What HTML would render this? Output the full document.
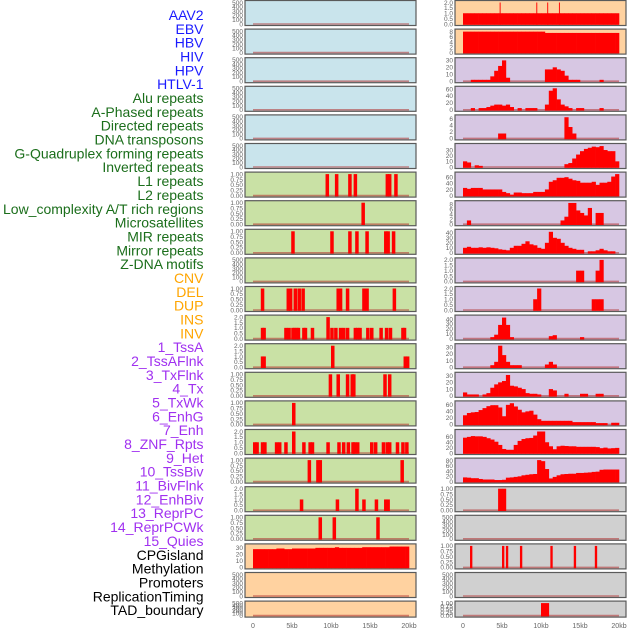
<!DOCTYPE html>
<html><head><meta charset="utf-8"><style>
html,body{margin:0;padding:0;background:#fff;}
svg{display:block;font-family:"Liberation Sans",sans-serif;}
</style></head><body>
<svg id="chart" width="630" height="630" viewBox="0 0 630 630" xmlns="http://www.w3.org/2000/svg"></svg>
<script>
// ---------- data ----------
const labels = ["AAV2","EBV","HBV","HIV","HPV","HTLV-1","Alu repeats","A-Phased repeats","Directed repeats","DNA transposons","G-Quadruplex forming repeats","Inverted repeats","L1 repeats","L2 repeats","Low_complexity A/T rich regions","Microsatellites","MIR repeats","Mirror repeats","Z-DNA motifs","CNV","DEL","DUP","INS","INV","1_TssA","2_TssAFlnk","3_TxFlnk","4_Tx","5_TxWk","6_EnhG","7_Enh","8_ZNF_Rpts","9_Het","10_TssBiv","11_BivFlnk","12_EnhBiv","13_ReprPC","14_ReprPCWk","15_Quies","CPGisland","Methylation","Promoters","ReplicationTiming","TAD_boundary"];
const labelGroups = [6,13,5,15,5];
const groupColors = ["#1a1aff","#1b6e1b","#ffa500","#a030f0","#000000"];
const xTickKb = [0,5,10,15,20];
const xTickLabels = ["0","5kb","10kb","15kb","20kb"];

// left column sparse bars (start kb, value)
const L6_pos=[9.3,10.5,12.2,12.9,17.0,17.3,18.1]; const L6_val=[1,1,1,1,1,1,1];
const L7_pos=[13.9]; const L7_val=[1];
const L8_pos=[4.9,9.9,12.2,13.1,14.4,16.8,17.1,17.8]; const L8_val=[1,1,1,1,1,1,1,1];
const L10_pos=[1.0,4.3,4.6,5.2,5.7,6.2,10.7,11.0,11.9,14.0,14.4,17.9]; const L10_val=[1,1,1,1,1,1,1,1,1,1,1,1];
const L11_pos=[1.0,1.2,4.0,4.4,4.9,5.1,5.4,5.6,6.3,6.5,7.4,9.4,9.9,10.4,11.0,11.4,11.9,12.9,13.2,13.5,14.5,15.0,16.2,16.9,17.4,19.0,19.2];
const L11_val=[1,1,1,1,1,1,1,1,1,1,1,2,1,1,1,1,1,1,1,1,1,1,1,1,1,1,1];
const L12_pos=[1.0,1.2,10.0,19.3,19.6]; const L12_val=[1,1,2,1,1];
const L13_pos=[9.7,10.7,11.9,12.5,12.7,16.7,17.3]; const L13_val=[1,1,1,1,1,1,1];
const L14_pos=[5.0]; const L14_val=[1];
const L15_pos=[0.0,0.3,1.0,1.3,2.8,3.2,4.0,5.0,6.3,7.1,7.4,9.4,10.8,11.4,12.0,12.6,12.8,13.2,15.0,15.5,16.5,17.0,17.3,18.3,19.0,19.5];
const L15_val=[1,1,1,1,1,1,1,2,1,1,1,1,1,1,1,1,1,1,1,1,1,1,1,1,1,1];
const L16_pos=[7.0,8.1,8.4,18.9]; const L16_val=[1,1,1,1];
const L17_pos=[6.0,10.6,13.1,14.0,15.6,16.8,17.1]; const L17_val=[1,1,2,1,1,1,1];
const L18_pos=[8.4,10.2,15.8]; const L18_val=[1,1,1];
const L19_vals=[28,28,28,28,28,28,29,29,28,28,29,29,29,29,29,29,30,30,30,30,30,31,30,30,30,30,30,30,31,31,31,31,31,31,31,32,32,32,32,32];

// right column histograms (40 bins of 0.5kb)
const R0_vals=[1,1,1,1,1,1,1,1,1,1,1,1,1,1,1,1,1,1,1,1,1,1,1,1,1,1,1,1,1,1,1,1,1,1,1,1,1,1,1,1];
const R0_spikePos=[4.7,9.4,10.8,12.3]; const R0_spikeVal=[2,2,2,2];
const R1_vals=[8,8,8,8,8,8,8,8,8,8,8,8,8,8,8,8,8,8,8,8,8,7.5,7.5,7.5,7.5,7.5,7.5,7.5,7.5,7.5,7.5,7.5,7.5,7.5,7.5,7.5,7.5,7.5,7.5,7.5];
const R2_vals=[0,0,2,2,2,2,2,7,15,22,30,5,0,0,0,0,0,0,0,0,0,17,17,20,17,15,8,2,2,2,0,0,0,0,0,2,0,0,0,0];
const R3_vals=[0,0,5,0,5,5,8,12,15,15,12,15,8,0,5,0,5,5,5,0,0,15,55,62,30,15,10,5,0,5,5,0,0,0,0,5,0,0,0,0];
const R4_vals=[0,0,0,0,0,0,0,0,0,1.5,1.5,0,0,0,0,0,0,0,0,0,0,0,0,0,0,0,6.5,3.5,1.5,0,0,0,0,0,0,0,0,0,0,0];
const R5_vals=[10,8,0,3,2,0,0,0,0,0,0,0,0,0,0,0,0,0,0,0,0,0,0,0,0,0,5,7,15,22,28,32,34,36,35,37,30,28,28,10];
const R6_vals=[25,22,25,25,25,20,20,20,20,20,12,8,3,10,10,8,8,8,12,12,12,20,45,50,58,58,60,55,50,48,42,42,42,45,35,42,42,45,62,70];
const R7_vals=[0,1.5,0,0,0,0,0,0,0,0,0,0,0,0,0,0,0,0,0,0,0,0,0,0,0,1.5,3,8.5,8.5,5.5,4.5,3.5,6.5,0,4.5,4.5,0,0,0,0];
const R8_vals=[10,12,10,10,11,10,11,10,9,7,6,5,10,14,14,18,23,17,15,10,8,20,42,30,28,20,14,10,8,6,6,0,3,3,5,8,5,3,3,0];
const R9_vals=[0,0,0,0,0,0,0,0,0,0,0,0,0,0,0,0,0,0,0,0,0,0,0,0,0,0,0,0,0,1,1,0,0,0,1,2,0,0,0,0];
const R10_vals=[0,0,0,0,0,0,0,0,0,0,0,0,0,0,0,0,0,0,1,2,0,0,0,0,0,0,0,0,0,0,0,0,0,1,1,1,0,0,0,0];
const R11_vals=[0,0,0,0,0,0,0,3,8,28,43,28,3,0,0,0,0,0,0,0,0,0,5,7,0,0,0,0,0,0,3,0,0,0,0,0,0,0,0,0];
const R12_vals=[0,0,0,0,0,0,0,3,8,32,18,8,3,3,3,0,0,0,0,0,0,4,8,4,0,0,0,0,0,0,0,0,0,0,0,0,0,0,0,0];
const R13_vals=[5,2,2,2,0,2,4,12,17,20,22,31,15,14,12,10,4,3,3,2,0,0,10,8,0,0,3,0,0,0,3,3,0,0,3,3,0,0,0,0];
const R14_vals=[28,35,37,38,44,50,56,59,59,52,25,60,65,55,45,37,40,42,30,16,11,11,11,11,11,11,11,11,7,7,7,7,7,7,4,4,4,0,5,5];
const R15_vals=[57,60,63,62,62,60,55,50,42,30,15,12,12,30,45,52,55,56,65,80,80,40,25,14,25,27,26,25,25,23,23,23,23,23,22,18,20,17,18,19];
const R16_vals=[16,15,13,13,10,8,8,8,6,6,7,15,16,18,20,24,26,28,29,82,78,48,12,18,24,28,29,30,30,33,33,34,35,37,38,45,46,46,46,46];
const R17_vals=[0,0,0,0,0,0,0,0,0,1,1,0,0,0,0,0,0,0,0,0,0,0,0,0,0,0,0,0,0,0,0,0,0,0,0,0,0,0,0,0];
const R19_pos=[0.9,5.0,5.5,7.3,11.2,14.2,16.9]; const R19_val=[1,1,1,1,1,1,1];
const R21_vals=[0,0,0,0,0,0,0,0,0,0,0,0,0,0,0,0,0,0,0,0,1,1,0,0,0,0,0,0,0,0,0,0,0,0,0,0,0,0,0,0];

// tick sets
const T500=[0,100,200,300,400,500], T1=[0,0.25,0.5,0.75,1], T2=[0,0.5,1,1.5,2];
const f2=v=>v.toFixed(2), f1=v=>v.toFixed(1), f0=v=>String(v);
const BLUE="#c9e4ec",GREEN="#c9e1a5",PEACH="#ffd2a0",LAV="#d7c7e3",GREY="#d0d0d0";

const leftPanels=[
 {bg:BLUE,ticks:T500,fmt:f0,max:500},{bg:BLUE,ticks:T500,fmt:f0,max:500},{bg:BLUE,ticks:T500,fmt:f0,max:500},
 {bg:BLUE,ticks:T500,fmt:f0,max:500},{bg:BLUE,ticks:T500,fmt:f0,max:500},{bg:BLUE,ticks:T500,fmt:f0,max:500},
 {bg:GREEN,ticks:T1,fmt:f2,max:1,pos:L6_pos,val:L6_val},
 {bg:GREEN,ticks:T1,fmt:f2,max:1,pos:L7_pos,val:L7_val},
 {bg:GREEN,ticks:T1,fmt:f2,max:1,pos:L8_pos,val:L8_val},
 {bg:GREEN,ticks:T500,fmt:f0,max:500},
 {bg:GREEN,ticks:T1,fmt:f2,max:1,pos:L10_pos,val:L10_val},
 {bg:GREEN,ticks:T2,fmt:f1,max:2,pos:L11_pos,val:L11_val},
 {bg:GREEN,ticks:T2,fmt:f1,max:2,pos:L12_pos,val:L12_val},
 {bg:GREEN,ticks:T1,fmt:f2,max:1,pos:L13_pos,val:L13_val},
 {bg:GREEN,ticks:T1,fmt:f2,max:1,pos:L14_pos,val:L14_val},
 {bg:GREEN,ticks:T2,fmt:f1,max:2,pos:L15_pos,val:L15_val},
 {bg:GREEN,ticks:T1,fmt:f2,max:1,pos:L16_pos,val:L16_val},
 {bg:GREEN,ticks:T2,fmt:f1,max:2,pos:L17_pos,val:L17_val},
 {bg:GREEN,ticks:T1,fmt:f2,max:1,pos:L18_pos,val:L18_val},
 {bg:PEACH,ticks:[0,10,20,30],fmt:f0,max:33,hist:L19_vals},
 {bg:PEACH,ticks:T500,fmt:f0,max:500},
 {bg:PEACH,ticks:T500,fmt:f0,max:500}
];
const rightPanels=[
 {bg:PEACH,ticks:T2,fmt:f1,max:2,hist:R0_vals,pos:R0_spikePos,val:R0_spikeVal,w:0.12},
 {bg:PEACH,ticks:[0,2,4,6,8],fmt:f0,max:8.2,hist:R1_vals},
 {bg:LAV,ticks:[0,10,20,30],fmt:f0,max:31,hist:R2_vals},
 {bg:LAV,ticks:[0,20,40,60],fmt:f0,max:62,hist:R3_vals},
 {bg:LAV,ticks:[0,2,4,6],fmt:f0,max:6.6,hist:R4_vals},
 {bg:LAV,ticks:[0,10,20,30],fmt:f0,max:38,hist:R5_vals},
 {bg:LAV,ticks:[0,20,40,60],fmt:f0,max:70,hist:R6_vals},
 {bg:LAV,ticks:[0,2,4,6,8],fmt:f0,max:8.6,hist:R7_vals},
 {bg:LAV,ticks:[0,10,20,30,40],fmt:f0,max:43,hist:R8_vals},
 {bg:LAV,ticks:T2,fmt:f1,max:2,hist:R9_vals},
 {bg:LAV,ticks:T2,fmt:f1,max:2,hist:R10_vals},
 {bg:LAV,ticks:[0,10,20,30,40],fmt:f0,max:44,hist:R11_vals},
 {bg:LAV,ticks:[0,10,20,30],fmt:f0,max:32,hist:R12_vals},
 {bg:LAV,ticks:[0,10,20,30],fmt:f0,max:32,hist:R13_vals},
 {bg:LAV,ticks:[0,20,40,60],fmt:f0,max:66,hist:R14_vals},
 {bg:LAV,ticks:[0,20,40,60],fmt:f0,max:80,hist:R15_vals},
 {bg:LAV,ticks:[0,20,40,60,80],fmt:f0,max:82,hist:R16_vals},
 {bg:GREY,ticks:T1,fmt:f2,max:1,hist:R17_vals},
 {bg:GREY,ticks:T500,fmt:f0,max:500},
 {bg:GREY,ticks:T1,fmt:f2,max:1,pos:R19_pos,val:R19_val,w:0.3},
 {bg:GREY,ticks:T500,fmt:f0,max:500},
 {bg:GREY,ticks:T1,fmt:f2,max:1,hist:R21_vals}
];

// ---------- drawing ----------
const NS="http://www.w3.org/2000/svg";
const svg=document.getElementById('chart');
function el(tag,attrs,parent){const e=document.createElementNS(NS,tag);for(const k in attrs)e.setAttribute(k,attrs[k]);(parent||svg).appendChild(e);return e;}

// labels
let li=0;
labelGroups.forEach((n,g)=>{for(let j=0;j<n;j++){
  const t=el('text',{x:203.5,y:20+li*13.84,'text-anchor':'end','font-size':'14',fill:groupColors[g]});
  
  
  t.textContent=labels[li]; li++;}});

function drawPanel(p,i,side){
  const pl = side==='left'?245:455, pw=171;
  const x0 = side==='left'?253:463;
  const xs = kb=>x0+kb*156/20;
  const top = i*28.6+0.5, h = (i===21?16:25);
  const y0 = top+h-1.5, y1 = top+2;
  const ys = v=>y0-(v/p.max)*(y0-y1);
  const g=el('g',{});
  
  
  const r=el('rect',{x:pl,y:top,width:pw,height:h,fill:p.bg,stroke:'#5a5a5a','stroke-width':1.2},g);
  
  
  // baseline
  const bl=el('line',{x1:xs(0),x2:xs(20),y1:y0,y2:y0,stroke:'#b03030','stroke-opacity':0.55,'stroke-width':1.6},g);
  
  
  if(p.hist){p.hist.forEach((v,b)=>{if(v<=0)return;
    const rb=el('rect',{x:xs(b*0.5),y:ys(v),width:xs(0.5)-xs(0)+0.3,height:y0-ys(v)+0.8,fill:'#ff0000'},g);
    
    });}
  if(p.pos){const w=p.w||0.45;p.pos.forEach((k,b)=>{const v=p.val[b];
    const rb=el('rect',{x:xs(k),y:ys(v),width:xs(w)-xs(0),height:y0-ys(v)+0.8,fill:'#ff0000'},g);
    
    });}
  // y ticks
  p.ticks.forEach(t=>{const tt=el('text',{x:pl-2,y:ys(t)+2.3,'text-anchor':'end','font-size':'6.5',fill:'#666'},g);
    
    
    tt.textContent=p.fmt(t);});
}
leftPanels.forEach((p,i)=>drawPanel(p,i,'left'));
rightPanels.forEach((p,i)=>drawPanel(p,i,'right'));

// x axis ticks
[253,463].forEach((x0,c)=>{xTickKb.forEach((k,j)=>{
  const t=el('text',{x:x0+k*156/20,y:628,'text-anchor':'middle','font-size':'7',fill:'#666'});
  
  
  t.textContent=xTickLabels[j];});});
</script>
</body></html>
